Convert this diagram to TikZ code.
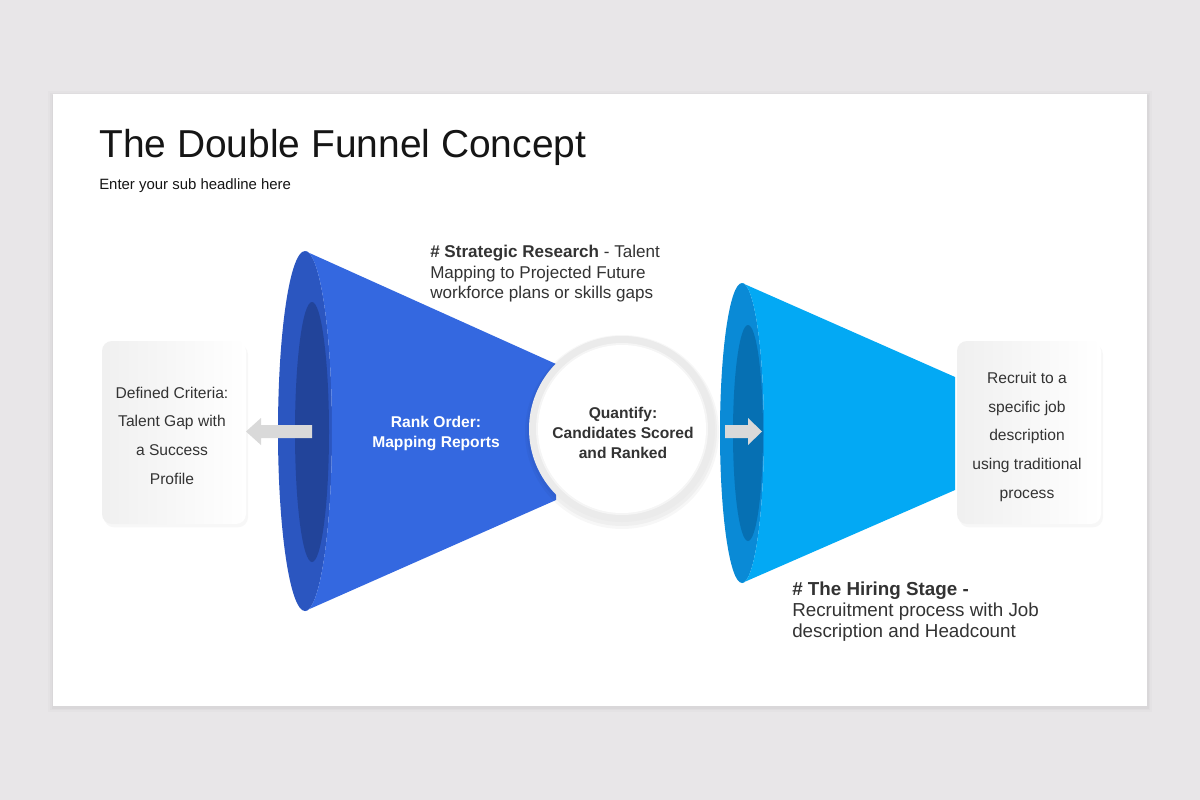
\documentclass[tikz,border=0pt]{standalone}
\usepackage{fontspec}
\setmainfont{Liberation Sans}
\usetikzlibrary{shadows}
\definecolor{bgc}{HTML}{E8E6E8}
\definecolor{titlec}{HTML}{151515}
\definecolor{txtc}{HTML}{333333}
\definecolor{lout}{HTML}{2B56C0}
\definecolor{lbody}{HTML}{3468E0}
\definecolor{lin}{HTML}{22449A}
\definecolor{rout}{HTML}{0A8AD6}
\definecolor{rbody}{HTML}{03A9F4}
\definecolor{rin}{HTML}{0670B3}
\definecolor{ringc}{HTML}{EBEBEB}
\definecolor{arrc}{HTML}{D9D9D9}
\begin{document}
\begin{tikzpicture}[x=0.75pt,y=-0.75pt,
  infobox/.style={minimum width=108pt, minimum height=137.25pt, rounded corners=7.5pt,
    left color=black!6, right color=white, align=center, text=txtc,
    font=\fontsize{11.7}{21.5}\selectfont, inner sep=0pt,
    drop shadow={opacity=0.06, shadow xshift=1.5pt, shadow yshift=-2.5pt}},
  desc/.style={anchor=base west, align=left, text=txtc, inner sep=0pt},
  centertxt/.style={anchor=base, align=center, inner sep=0pt, font=\bfseries\fontsize{11.7}{15}\selectfont},
  boxtxt/.style={anchor=base, align=center, inner sep=0pt, text=txtc, font=\fontsize{11.7}{21.5}\selectfont},
  blockarrow/.style={fill=arrc}]
\useasboundingbox (0,0) rectangle (1200,800);
\fill[bgc] (0,0) rectangle (1200,800);
% slide with soft shadow
\foreach \d/\o in {5/0.015,3/0.02,1.5/0.025}
  \fill[black,opacity=\o] (53-\d,95-\d+1) rectangle (1147+\d,706+\d+1);
\fill[white] (53,94) rectangle (1147,706);

% title
\node[anchor=base west, inner sep=0pt, text=titlec, font=\fontsize{29.2}{34}\selectfont] (title) at (99,157) {The Double Funnel Concept};
\node[anchor=base west, inner sep=0pt, text=titlec, font=\fontsize{11.2}{13}\selectfont] (subtitle) at (99,189) {Enter your sub headline here};

% left funnel
\fill[lout] (305,431) ellipse [x radius=27, y radius=180];
\fill[lin] (312,432) ellipse [x radius=17, y radius=130];
\fill[lbody] (305,251) -- (556,364) -- (556,500) -- (305,611)
  -- plot[domain=90:-90, samples=80] ({305+27*cos(\x)},{431+180*sin(\x)}) -- cycle;

% right funnel
\fill[rout] (742,433) ellipse [x radius=22, y radius=150];
\fill[rin] (748,433) ellipse [x radius=15, y radius=108];
\fill[rbody] (742,283) -- (955,377) -- (955,490) -- (742,583)
  -- plot[domain=90:-90, samples=80] ({742+22*cos(\x)},{433+150*sin(\x)}) -- cycle;

% center circle
\fill[black,opacity=0.03] (622,432) circle [radius=97];
\fill[black,opacity=0.03] (622,431) circle [radius=95];
\fill[ringc] (622,429) circle [radius=93];
\fill[black!4] (622,429) circle [radius=86];
\fill[white] (622,429) circle [radius=84];

% boxes
\node[infobox] (lbox) at (174,432.5) {};
\node[infobox] (rbox) at (1029,432.5) {};

% arrows
\fill[blockarrow] (312,425) -- (261,425) -- (261,418) -- (246,431.5) -- (261,445) -- (261,438) -- (312,438) -- cycle;
\fill[blockarrow] (725,425) -- (748,425) -- (748,418) -- (762,431.5) -- (748,445) -- (748,438) -- (725,438) -- cycle;

% texts (base anchor = baseline of last line)
\node[desc, font=\fontsize{12.8}{15.2}\selectfont] (strat) at (430,298.5)
  {{\bfseries\# Strategic Research} - Talent\\Mapping to Projected Future\\workforce plans or skills gaps};
\node[desc, font=\fontsize{14.1}{15.7}\selectfont] (hiring) at (792,637.5)
  {{\bfseries\# The Hiring Stage -}\\Recruitment process with Job\\description and Headcount};
\node[centertxt, text=white] (rank) at (436,447) {Rank Order:\\Mapping Reports};
\node[centertxt, text=txtc] (quant) at (623,458) {Quantify:\\Candidates Scored\\and Ranked};
\node[boxtxt] (ltxt) at (172,484) {Defined Criteria:\\Talent Gap with\\a Success\\Profile};
\node[boxtxt] (rtxt) at (1027,498) {Recruit to a\\specific job\\description\\using traditional\\process};
\end{tikzpicture}
\end{document}
